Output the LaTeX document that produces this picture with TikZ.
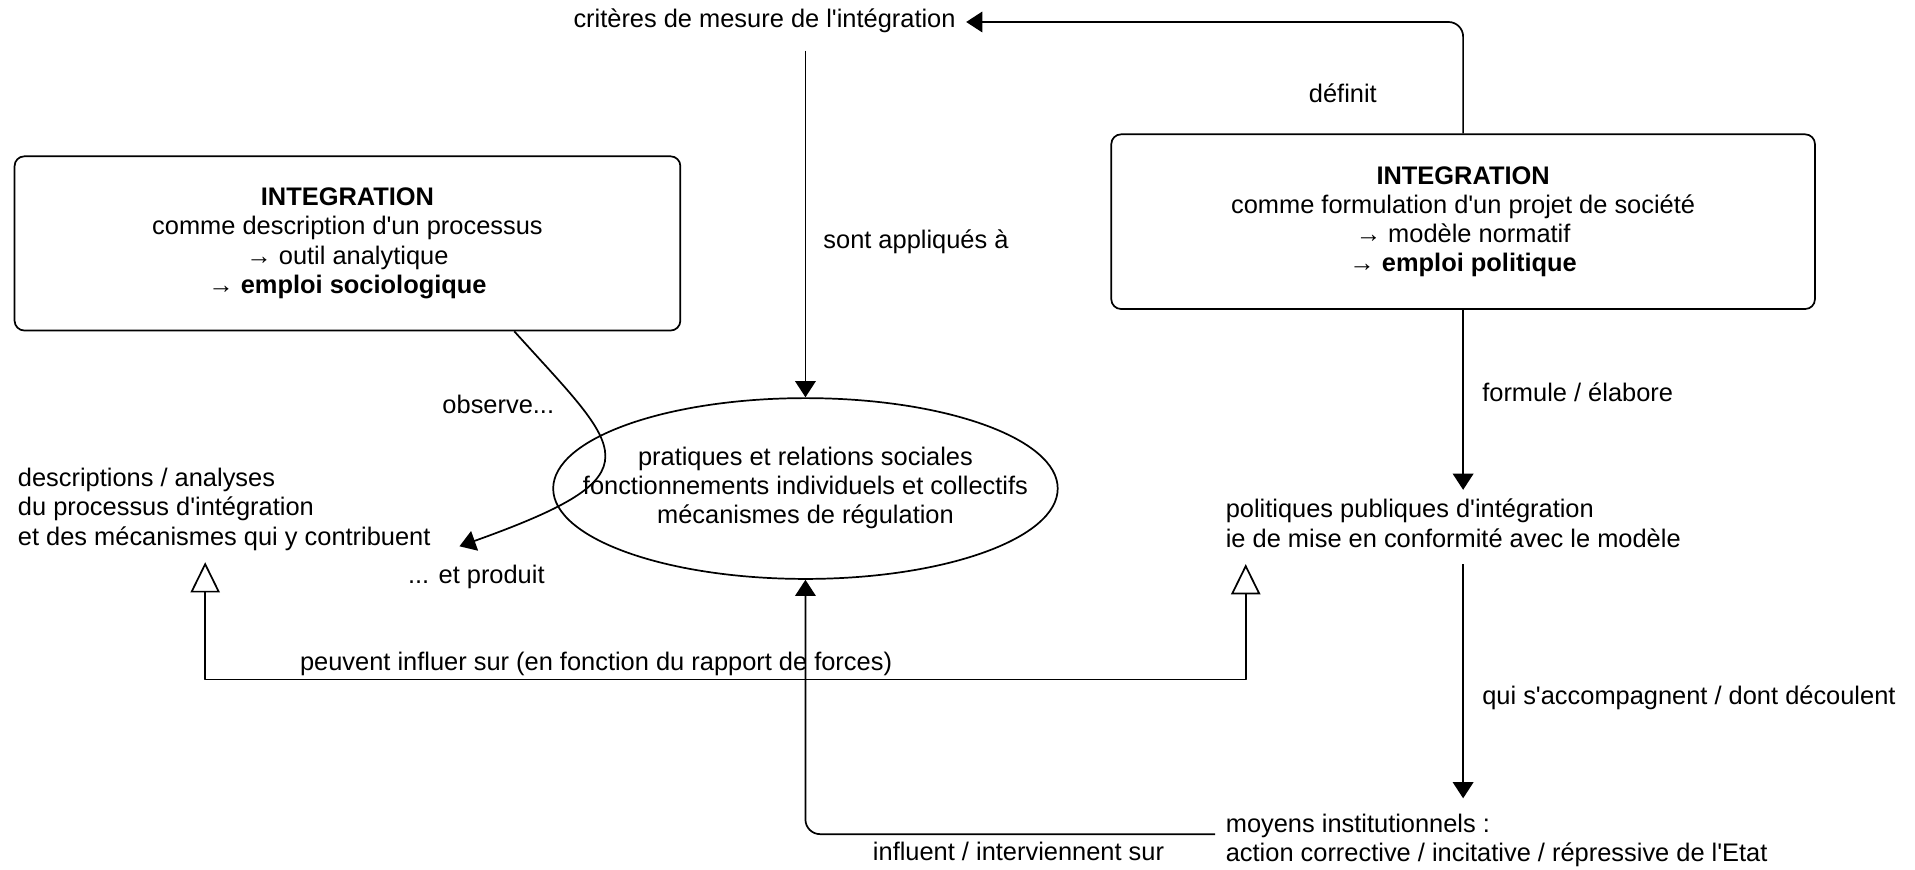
\documentclass[tikz,border=0pt]{standalone}
\usepackage{fontspec}
\setmainfont{Liberation Sans}
\usetikzlibrary{arrows.meta,calc,positioning,shapes.geometric}
\newcommand\apos{\textquotesingle}
\tikzset{
  txt/.style={inner sep=0pt, align=left},
  lbl/.style={inner sep=0pt},
  cadre/.style={draw, rounded corners=0.2cm, align=center, inner sep=0pt},
  creux/.style={{Triangle[open,length=0.62cm,width=0.6cm]}-{Triangle[open,length=0.62cm,width=0.6cm]}}
}
\begin{document}
\begin{tikzpicture}[x=0.025cm, y=-0.025cm, font=\fontsize{14.8pt}{17pt}\selectfont, line join=round, line width=1pt, >={Triangle[length=0.33cm,width=0.42cm]}]
\useasboundingbox (0,0) rectangle (1568,712);
\node[lbl] (crit) at (626,17) {critères de mesure de l\apos intégration};
\node[cadre, minimum width=13.625cm, minimum height=3.565cm] (anal) at (284.5,199.3)
  {\textbf{INTEGRATION}\\comme description d\apos un processus\\→ outil analytique\\→ \textbf{emploi sociologique}};
\node[cadre, minimum width=14.4cm, minimum height=3.575cm] (proj) at (1198,181.5)
  {\textbf{INTEGRATION}\\comme formulation d\apos un projet de société\\→ modèle normatif\\→ \textbf{emploi politique}};
\node[draw, ellipse, inner sep=0pt, minimum width=10.325cm, minimum height=3.7cm] (prat) at (659.5,400)
  {\makebox[0pt]{\begin{tabular}{c}pratiques et relations sociales\\fonctionnements individuels et collectifs\\mécanismes de régulation\end{tabular}}};
\node[txt, anchor=west] (descr) at (14,417) {descriptions / analyses\\du processus d\apos intégration\\et des mécanismes qui y contribuent};
\node[txt, anchor=west] (polit) at (1003,428.5) {politiques publiques d\apos intégration\\ie de mise en conformité avec le modèle};
\node[txt, anchor=west] (moyens) at (1003,688) {moyens institutionnels :\\action corrective / incitative / répressive de l\apos Etat};
\node[lbl] (obs) at (408,331) {observe...};
\node[lbl] (prod) at (390,472) {... et produit};

\draw[->, rounded corners=0.3cm] (proj.north) |- ($(crit.east)+(8,1)$) node[lbl, pos=.18, left=1.75cm] {définit};
\draw[->] ($(crit.south -| prat.north)+(0,14)$) -- (prat.north) node[lbl, pos=.55, right=0.35cm] {sont appliqués à};
\draw[->] ($(anal.south west)!0.75!(anal.south east)$) .. controls (510,370) and (542,388) .. ($(descr.south east)+(23,-4)$);
\draw[creux] ($(descr.south west)+(154,9)$) -- ++(0,96) coordinate (bas) -| ($(polit.south west)+(17,13)$);
\node[lbl, anchor=west] at ($(bas)+(77,-13)$) {peuvent influer sur (en fonction du rapport de forces)};
\draw[->] (proj.south) -- ($(polit.north -| proj.south)+(0,-7)$) node[lbl, pos=.46, right=0.375cm] {formule / élabore};
\draw[->] ($(polit.south -| proj.south)+(0,13)$) -- ($(moyens.north -| proj.south)+(0,-12)$) node[lbl, pos=.57, right=0.375cm] {qui s\apos accompagnent / dont découlent};
\draw[->, rounded corners=0.3cm] ($(moyens.west)+(-8,-5)$) -| (prat.south) node[lbl, pos=.24, below=0.15cm] {influent / interviennent sur};
\end{tikzpicture}
\end{document}
